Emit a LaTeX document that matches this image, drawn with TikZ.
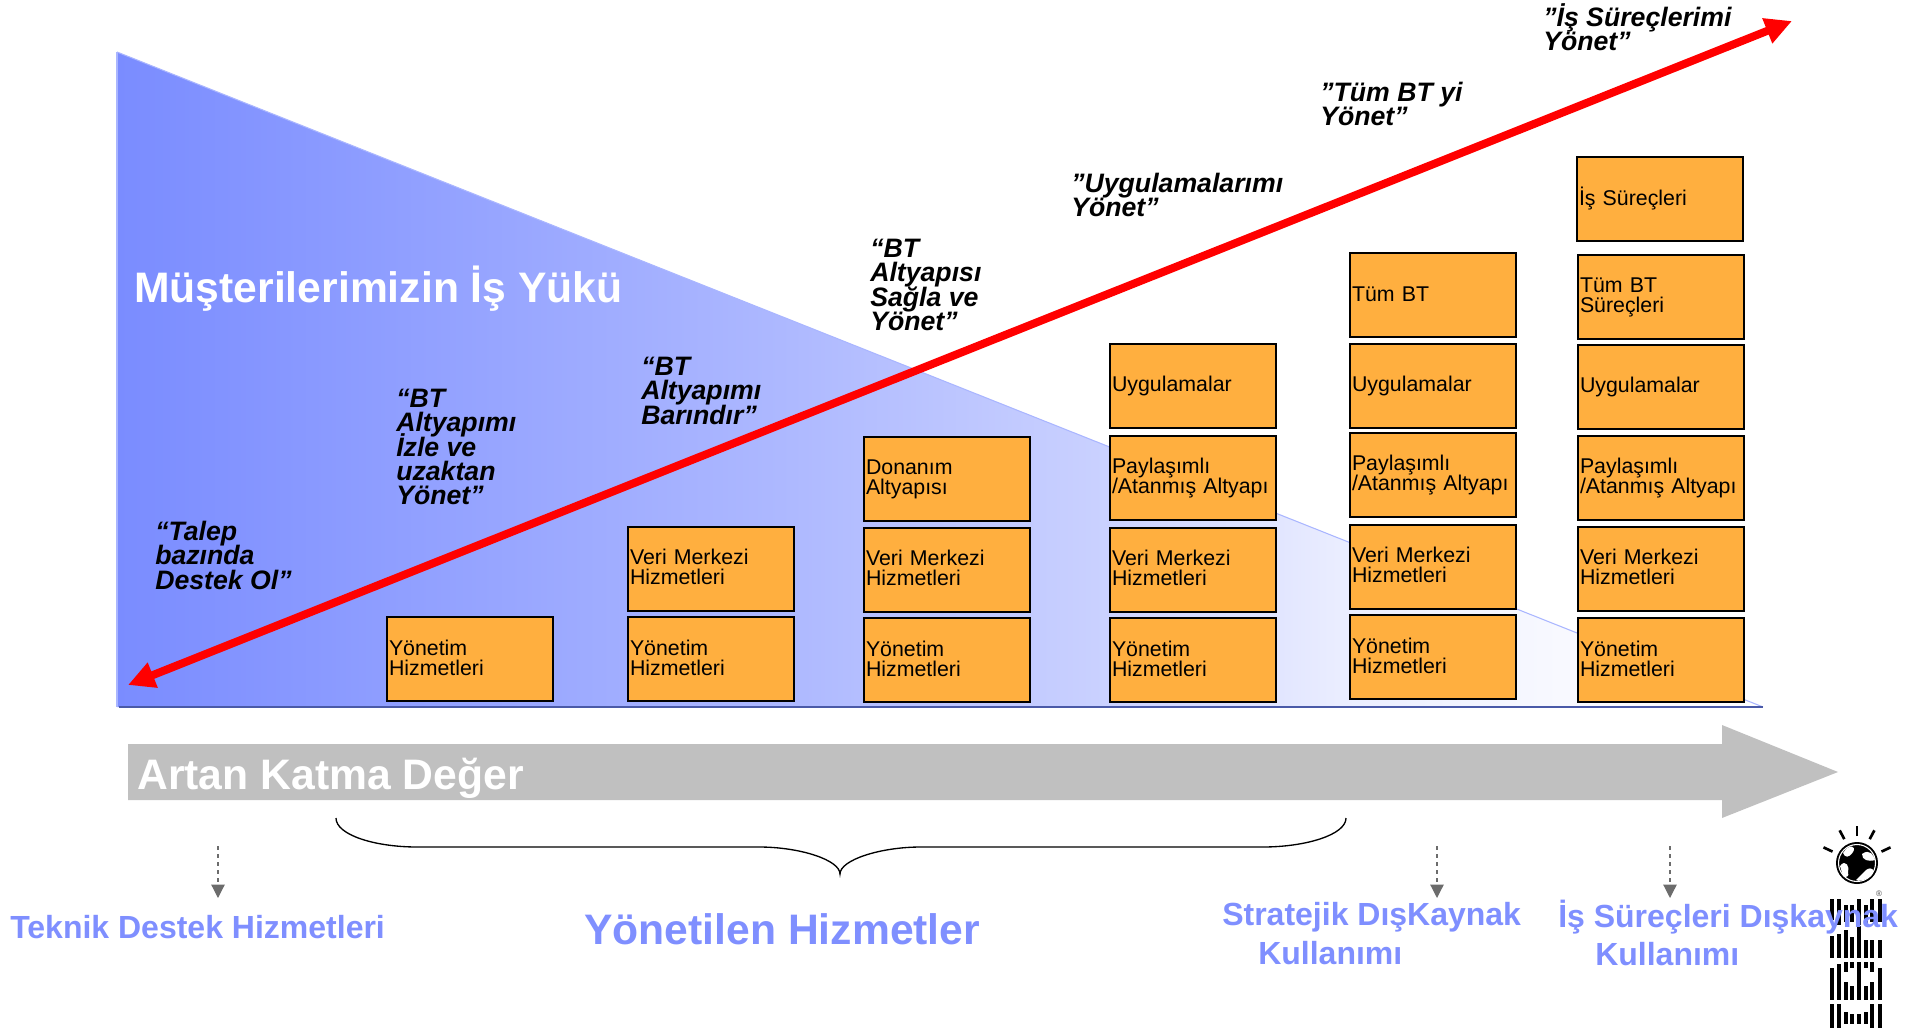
\documentclass[tikz,border=0pt]{standalone}
\usepackage{fontspec}
\setmainfont{Liberation Sans}
\usetikzlibrary{arrows.meta}
\definecolor{orangefill}{HTML}{FFAF3F}
\definecolor{wedgeblue}{HTML}{7A8CFF}
\definecolor{edgeblue}{HTML}{AAB6FF}
\definecolor{axisblue}{HTML}{4A5AA8}
\definecolor{lblblue}{HTML}{7F8FFF}
\definecolor{greyarrow}{HTML}{C0C0C0}
\pgfdeclarehorizontalshading{wedgefade}{100bp}{
  color(0bp)=(wedgeblue); color(25bp)=(wedgeblue);
  color(45bp)=(wedgeblue!62!white); color(55bp)=(wedgeblue!40!white);
  color(62bp)=(wedgeblue!16!white); color(69bp)=(wedgeblue!5!white);
  color(75bp)=(white); color(100bp)=(white)}
\newcommand\upa[1]{\raisebox{2.7pt}{#1}}
\newcommand\upb[1]{\raisebox{1.6pt}{#1}}
\newcommand\dnb[1]{\raisebox{-1pt}{#1}}
\tikzset{
  orangebox/.style={draw=black,fill=orangefill,line width=1.5pt,minimum width=124pt,minimum height=63pt,
    text width=121.5pt,inner xsep=1pt,inner ysep=0pt,align=left,font=\fontsize{16}{15}\selectfont,
    execute at begin node={\lineskiplimit=-20pt\relax}},
  slogan/.style={anchor=north west,inner sep=0pt,align=left,text=black,font=\fontsize{20}{18.2}\selectfont\bfseries\itshape,
    execute at begin node={\lineskiplimit=-20pt\relax}},
  bluelabel/.style={anchor=west,inner sep=0pt,text=lblblue,font=\fontsize{24}{24}\selectfont\bfseries},
  dasharrow/.style={draw=gray!85!black,dashed,line width=0.9pt,-{Triangle[length=10pt,width=10pt]}},
  logobar/.style={draw=black,line width=3pt,line cap=butt},
}
\begin{document}
\begin{tikzpicture}[x=0.75pt,y=-0.75pt]
\useasboundingbox (0,0) rectangle (1925,1031);
% wedge
\path[shading=wedgefade] (117,52) -- (1763,707) -- (117,707) -- cycle;
\draw[edgeblue,line width=0.8pt] (117,52) -- (1763,707);
\draw[edgeblue,line width=1.5pt] (117,52) -- (117,707);
\draw[axisblue,line width=2pt] (119,707) -- (1763,707);
% boxes
\node[orangebox] (c1a) at (470,659) {\upb{Yönetim}\\\upb{Hizmetleri}};
\node[orangebox] (c2b) at (711,569) {\upa{Veri Merkezi}\\\upa{Hizmetleri}};
\node[orangebox] (c2a) at (711,659) {\upb{Yönetim}\\\upb{Hizmetleri}};
\node[orangebox] (c3c) at (947,479) {\dnb{Donanım}\\\dnb{Altyapısı}};
\node[orangebox] (c3b) at (947,570) {\upa{Veri Merkezi}\\\upa{Hizmetleri}};
\node[orangebox] (c3a) at (947,660) {\upb{Yönetim}\\\upb{Hizmetleri}};
\node[orangebox] (c4d) at (1193,386) {\dnb{Uygulamalar}};
\node[orangebox] (c4c) at (1193,478) {\dnb{Paylaşımlı}\\\dnb{/Atanmış Altyapı}};
\node[orangebox] (c4b) at (1193,570) {\upa{Veri Merkezi}\\\upa{Hizmetleri}};
\node[orangebox] (c4a) at (1193,660) {\upb{Yönetim}\\\upb{Hizmetleri}};
\node[orangebox] (c5e) at (1433,295) {\raisebox{0.8pt}{Tüm BT}};
\node[orangebox] (c5d) at (1433,386) {\dnb{Uygulamalar}};
\node[orangebox] (c5c) at (1433,475) {\dnb{Paylaşımlı}\\\dnb{/Atanmış Altyapı}};
\node[orangebox] (c5b) at (1433,567) {\upa{Veri Merkezi}\\\upa{Hizmetleri}};
\node[orangebox] (c5a) at (1433,657) {\upb{Yönetim}\\\upb{Hizmetleri}};
\node[orangebox] (c6f) at (1660,199) {\dnb{İş Süreçleri}};
\node[orangebox] (c6e) at (1661,297) {\raisebox{-1.8pt}{Tüm BT}\\\raisebox{-1.8pt}{Süreçleri}};
\node[orangebox] (c6d) at (1661,387) {\raisebox{-1.8pt}{Uygulamalar}};
\node[orangebox] (c6c) at (1661,478) {\dnb{Paylaşımlı}\\\dnb{/Atanmış Altyapı}};
\node[orangebox] (c6b) at (1661,569) {\upa{Veri Merkezi}\\\upa{Hizmetleri}};
\node[orangebox] (c6a) at (1661,660) {\upb{Yönetim}\\\upb{Hizmetleri}};
% red arrow
\coordinate (redlow) at (128,685);
\coordinate (redhigh) at (1792,21);
\draw[red,line width=6pt,{Triangle[length=20pt,width=19pt]}-{Triangle[length=20pt,width=19pt]}] (redlow) -- (redhigh);
% slogans
\node[slogan] (s1) at (155,521) {“Talep\\bazında\\Destek Ol”};
\node[slogan] (s2) at (396,389) {“BT\\Altyapımı\\İzle ve\\uzaktan\\Yönet”};
\node[slogan] (s3) at (641,357) {“BT\\Altyapımı\\Barındır”};
\node[slogan] (s4) at (870,239) {“BT\\Altyapısı\\Sağla ve\\Yönet”};
\node[slogan] (s5) at (1071,173) {"Uygulamalarımı\\Yönet”};
\node[slogan] (s6) at (1320,82) {"Tüm BT yi\\Yönet”};
\node[slogan] (s7) at (1543,3.5) {"İş Süreçlerimi\\Yönet”};
\node[anchor=west,inner sep=0pt,text=white,font=\fontsize{32}{32}\selectfont\bfseries] (wl) at (134,289) {Müşterilerimizin İş Yükü};
% grey arrow
\fill[greyarrow] (128,744) -- (1722,744) -- (1722,725) -- (1838,772) -- (1722,818) -- (1722,800) -- (128,800) -- cycle;
\node[anchor=west,inner sep=0pt,text=white,font=\fontsize{32}{32}\selectfont\bfseries] (gl) at (137,778) {Artan Katma Değer};
% brace
\draw[black,line width=1pt] (336,818) .. controls (336,835) and (375,847) .. (417,847) -- (759,847)
  .. controls (800,847) and (840,860) .. (840,874) .. controls (840,860) and (880,847) .. (921,847) -- (1263,847)
  .. controls (1305,847) and (1346,835) .. (1346,818);
% IBM logo
\coordinate (globe) at (1857,863);
\fill[black] (globe) circle[radius=21];
\draw[white,line width=0.8pt] (globe) circle[radius=18.5];
\fill[white] (1843,853) .. controls (1849,843) and (1857,846) .. (1853,852) .. controls (1849,858) and (1845,858) .. (1843,853) -- cycle;
\fill[white] (1840,866) .. controls (1846,858) and (1850,868) .. (1848,872) .. controls (1850,877) and (1845,878) .. (1843,876) -- cycle;
\fill[white] (1862,854) .. controls (1870,848) and (1874,856) .. (1875,860) .. controls (1868,862) and (1862,860) .. (1862,854) -- cycle;
\fill[white] (1866,870) .. controls (1872,866) and (1876,870) .. (1871,876) .. controls (1866,880) and (1858,882) .. (1856,880) -- cycle;
\foreach \a in {25,62,90,118,155}{
  \draw[black,line width=2pt] ([shift={(-\a:27)}]globe) -- ([shift={(-\a:37)}]globe);
}
\foreach \bx/\ya/\yb in {
 1832/899/920,1839/899/925,1846/905/922,1852/905/922,1859/899/925,1866/905/925,1872/899/922,1880/899/922,
 1832/936/958,1839/934/958,1846/930/958,1852/937/958,1859/926/958,1866/940/958,1872/940/958,1880/940/958,
 1832/968/1000,1839/964/1000,1846/962/972,1846/982/1000,1852/962/968,1852/986/1000,1859/962/1000,1866/962/968,1866/986/1000,1872/962/972,1872/982/1000,1880/968/1000,
 1832/1004/1028,1839/1004/1028,1846/1012/1024,1852/1014/1024,1859/1014/1024,1866/1012/1024,1872/1004/1028,1880/1004/1028}{
  \draw[logobar] (\bx,\ya) -- (\bx,\yb);
}
\node[inner sep=0pt,text=black!70,font=\fontsize{6}{6}\selectfont] (reg) at (1879,894) {®};
% dashed pointers
\coordinate (d1a) at (218,846); \coordinate (d1b) at (218,898);
\coordinate (d2a) at (1437,846); \coordinate (d2b) at (1437,898);
\coordinate (d3a) at (1670,846); \coordinate (d3b) at (1670,898);
\draw[dasharrow] (d1a) -- (d1b);
\draw[dasharrow] (d2a) -- (d2b);
\draw[dasharrow] (d3a) -- (d3b);
% blue labels
\node[bluelabel] (b1) at (10,927) {Teknik Destek Hizmetleri};
\node[bluelabel,font=\fontsize{32}{32}\selectfont\bfseries] (b2) at (584,929) {Yönetilen Hizmetler};
\node[bluelabel] (b3) at (1222,917) {Stratejik DışKaynak};
\node[bluelabel] (b4) at (1258,953) {Kullanımı};
\node[bluelabel] (b5) at (1558,917) {İş Süreçleri Dışkaynak};
\node[bluelabel] (b6) at (1595,954) {Kullanımı};
\end{tikzpicture}
\end{document}
